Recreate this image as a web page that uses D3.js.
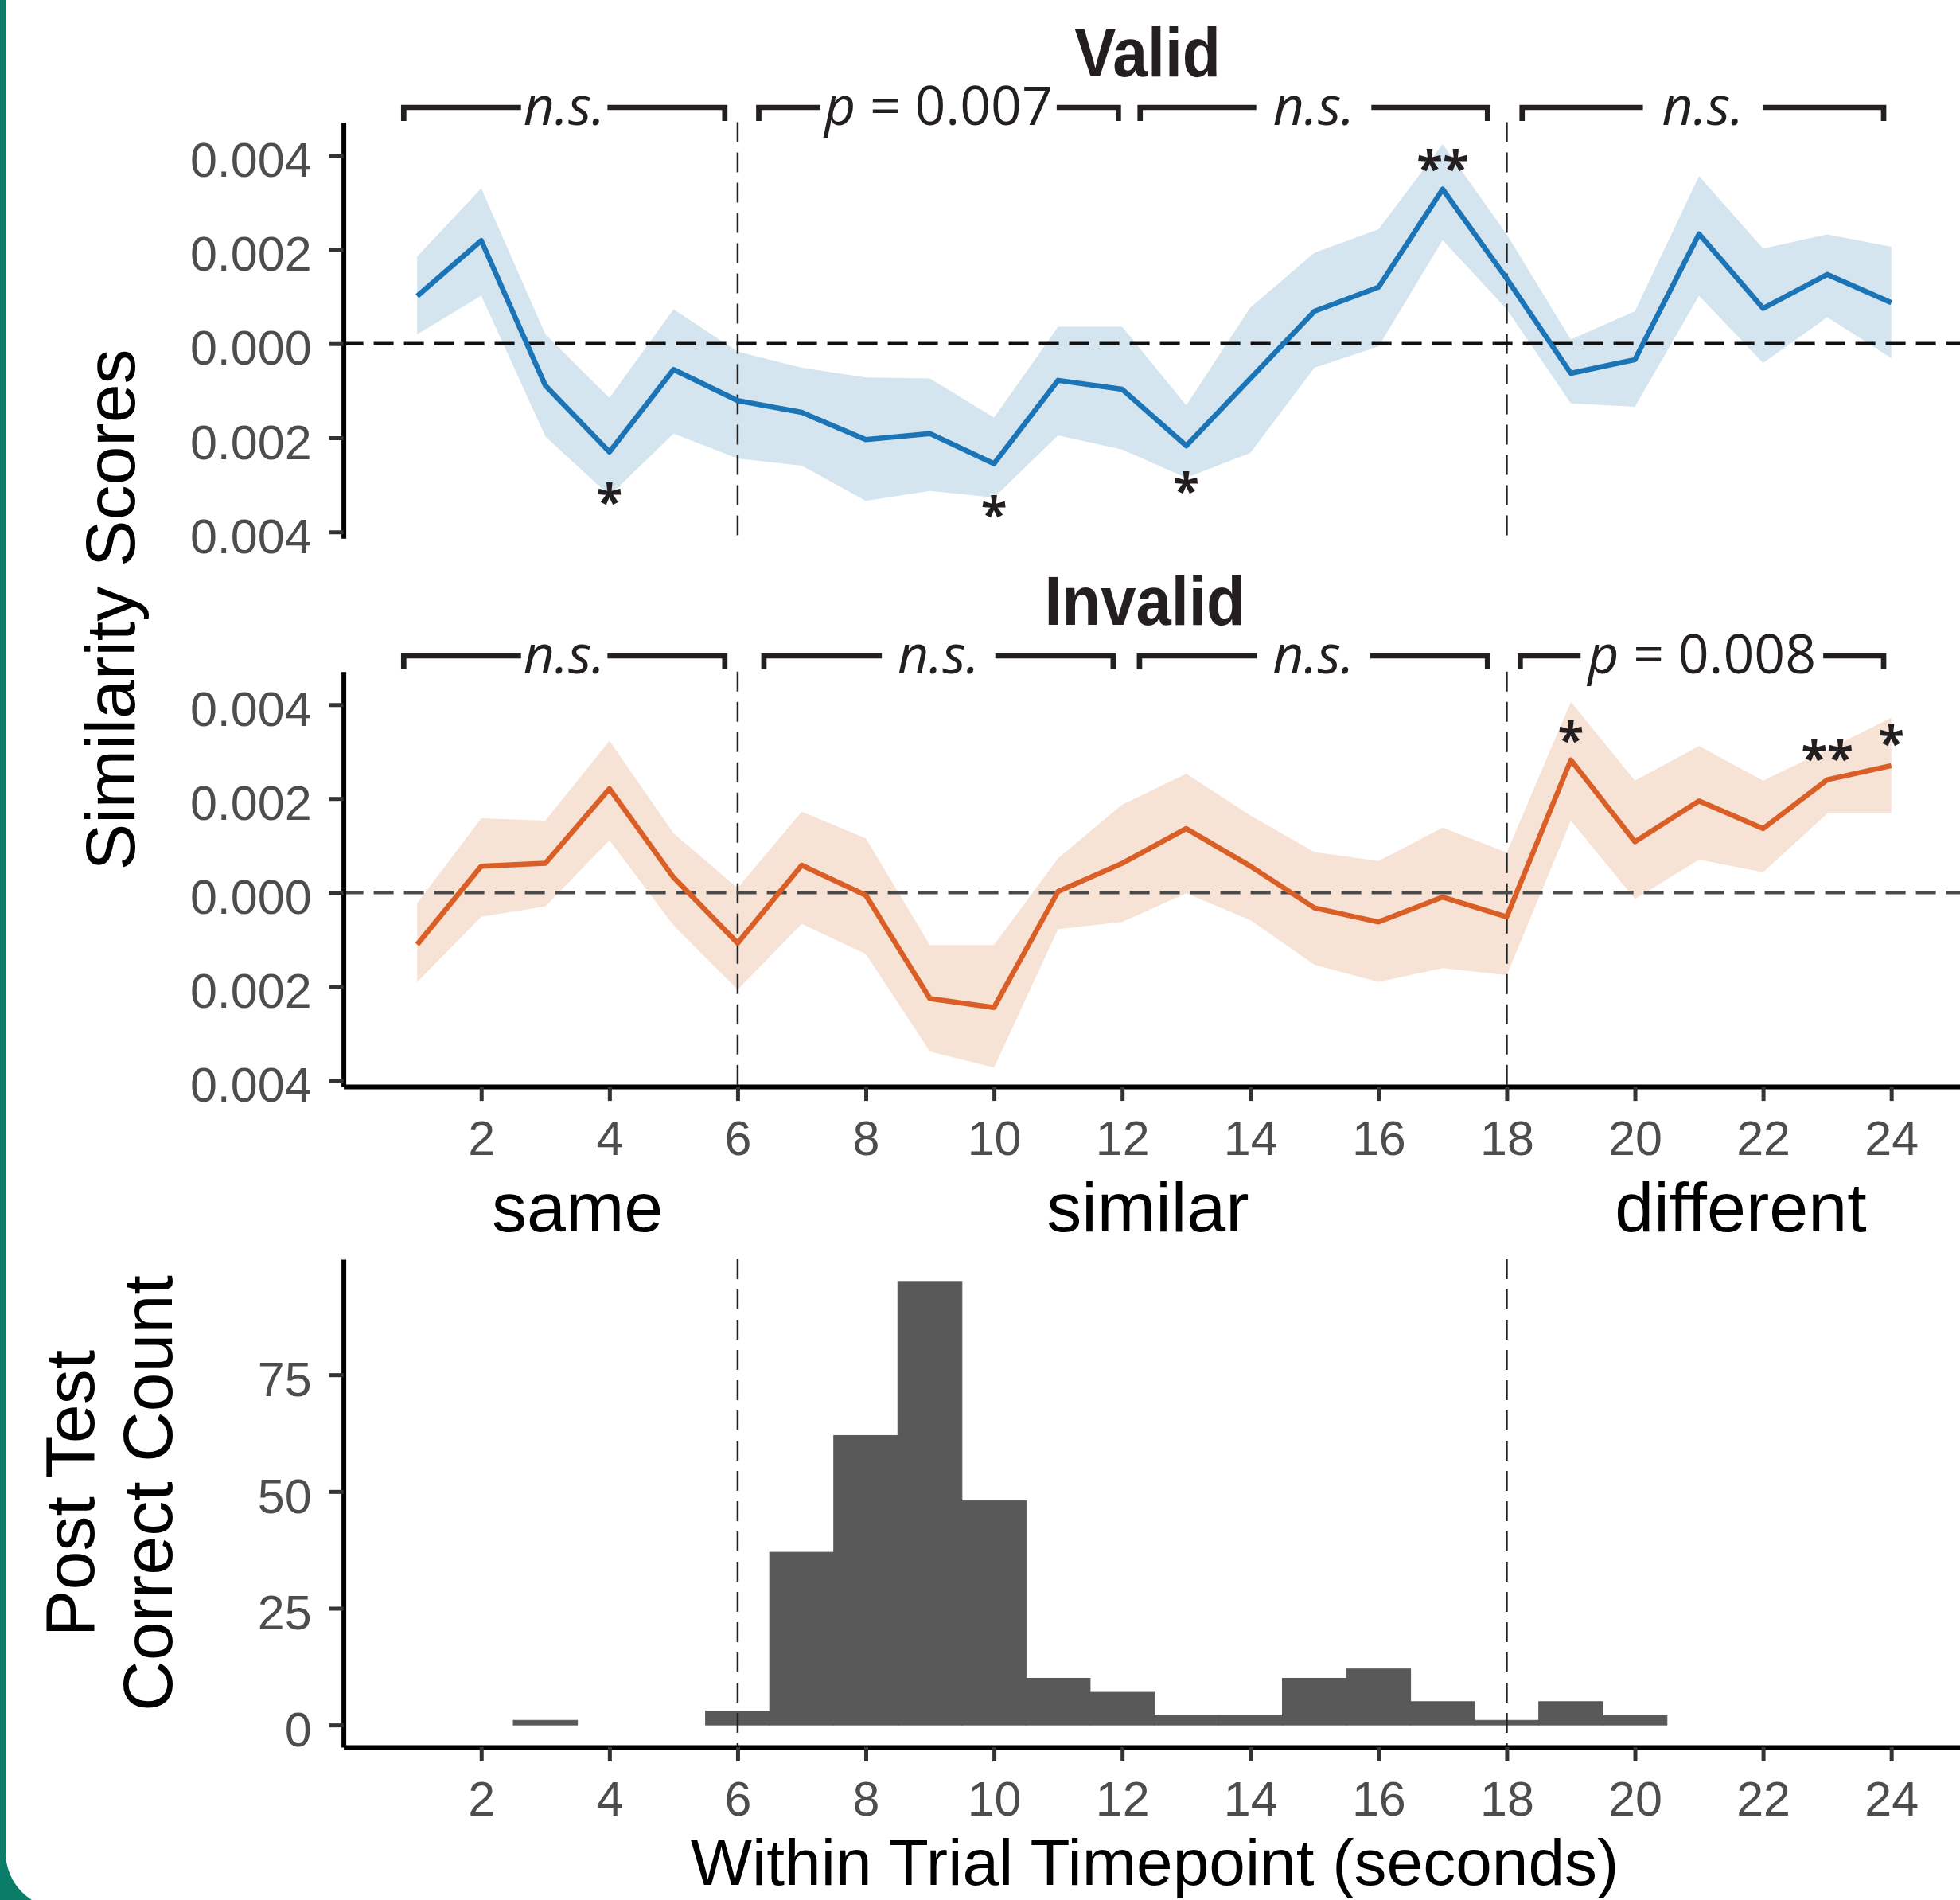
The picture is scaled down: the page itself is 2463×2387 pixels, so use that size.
<!DOCTYPE html>
<html>
<head>
<meta charset="utf-8">
<script src="https://cdn.jsdelivr.net/npm/d3@7"></script>
<style>
body { margin: 0; background: #fff; }
svg { display: block; }
.axis .tick text { font-family: "Liberation Sans", Arial, sans-serif; font-size: 61px; fill: #4d4d4d; }
.axis .tick line { stroke: #333; stroke-width: 5; }
.axis .domain { stroke: #000; stroke-width: 6; }
.lab { font-family: "Liberation Sans", Arial, sans-serif; fill: #000; }
.ann { font-family: "Open Sans", sans-serif; fill: #231f20; }
</style>
</head>
<body>
<div id="chart"></div>
<script>
const W = 2463, H = 2387;

// ---- data ----
const timepoints = [1,2,3,4,5,6,7,8,9,10,11,12,13,14,15,16,17,18,19,20,21,22,23,24];
const xTicks = [2,4,6,8,10,12,14,16,18,20,22,24];
const yTickValues = [-0.004, -0.002, 0, 0.002, 0.004];
const yTickLabels = ["0.004", "0.002", "0.000", "0.002", "0.004"];
const countTicks = [0, 25, 50, 75];
const boundaries = [6, 18];
const phaseLabels = ["same", "similar", "different"];
const phaseLabelAt = [3.5, 12.4, 21.65];

const validMean  = [0.00101, 0.00219, -0.00089, -0.00230, -0.00055, -0.00121, -0.00146, -0.00204, -0.00191, -0.00255, -0.00078, -0.00097,
                    -0.00217, -0.00074, 0.00069, 0.00120, 0.00328, 0.00138, -0.00063, -0.00034, 0.00233, 0.00075, 0.00147, 0.00087];
const validLower = [0.00020, 0.00102, -0.00197, -0.00323, -0.00191, -0.00244, -0.00259, -0.00334, -0.00313, -0.00327, -0.00195, -0.00225,
                    -0.00285, -0.00232, -0.00051, -0.00006, 0.00220, 0.00073, -0.00127, -0.00134, 0.00102, -0.00041, 0.00056, -0.00031];
const validUpper = [0.00185, 0.00330, 0.00020, -0.00115, 0.00073, -0.00017, -0.00051, -0.00072, -0.00074, -0.00157, 0.00036, 0.00036,
                    -0.00131, 0.00077, 0.00193, 0.00243, 0.00424, 0.00232, 0.00009, 0.00069, 0.00356, 0.00202, 0.00232, 0.00206];

const invalidMean  = [-0.00111, 0.00056, 0.00062, 0.00221, 0.00032, -0.00108, 0.00058, -0.00006, -0.00226, -0.00245, 0.00002, 0.00062,
                      0.00136, 0.00056, -0.00033, -0.00063, -0.00010, -0.00052, 0.00282, 0.00108, 0.00195, 0.00136, 0.00240, 0.00270];
const invalidLower = [-0.00191, -0.00052, -0.00030, 0.00111, -0.00070, -0.00207, -0.00067, -0.00131, -0.00339, -0.00373, -0.00078, -0.00063,
                      -0.00002, -0.00059, -0.00154, -0.00191, -0.00161, -0.00176, 0.00153, -0.00014, 0.00070, 0.00043, 0.00168, 0.00168];
const invalidUpper = [-0.00023, 0.00158, 0.00153, 0.00323, 0.00126, 0.00009, 0.00172, 0.00115, -0.00112, -0.00112, 0.00073, 0.00187,
                      0.00253, 0.00164, 0.00086, 0.00067, 0.00138, 0.00085, 0.00406, 0.00238, 0.00312, 0.00238, 0.00304, 0.00372];

const validBrackets = [[0.79, 5.80], [6.33, 11.94], [12.28, 17.70], [18.24, 23.88]];
const validBracketText = ["n.s.", "p = 0.007", "n.s.", "n.s."];
const invalidBrackets = [[0.79, 5.80], [6.41, 11.86], [12.27, 17.70], [18.21, 23.88]];
const invalidBracketText = ["n.s.", "n.s.", "n.s.", "p = 0.008"];

// [timepoint, marker, height]
const validStars = [[4, "*", -0.00316], [10, "*", -0.00344], [13, "*", -0.00293], [17, "**", 0.00392]];
const invalidStars = [[19, "*", 0.00345], [23, "**", 0.00306], [24, "*", 0.00337]];

const postTestCounts = [0, 0, 1, 0, 0, 3, 37, 62, 95, 48, 10, 7, 2, 2, 10, 12, 5, 1, 5, 2, 0, 0, 0, 0];

// ---- drawing ----
const svg = d3.select('#chart').append('svg')
    .attr('width', W)
    .attr('height', H);

// teal frame on the left with rounded corner
svg.append('rect').attr('width', W).attr('height', H).attr('fill', '#0a7c68');
svg.append('rect').attr('x', 7).attr('y', -300).attr('width', W + 300).attr('height', H + 300 + 11)
    .attr('rx', 71).attr('fill', '#fff');

const x = d3.scaleLinear().domain([-0.15, 25.15]).range([431.6, 2469.3]);
const simDomain = [-0.004136, 0.004705];

function dashedV(g, top, bottom) {
    g.selectAll('.bound').data(boundaries).enter().append('line')
        .attr('x1', d => x(d)).attr('x2', d => x(d))
        .attr('y1', top).attr('y2', bottom)
        .attr('stroke', '#222').attr('stroke-width', 2.5)
        .attr('stroke-dasharray', '25,13');
}

function styleAxis(sel) {
    sel.attr('class', 'axis');
    sel.selectAll('.tick text').attr('fill', null);
    sel.selectAll('.tick line').attr('stroke', null);
    sel.select('.domain').attr('stroke', null);
}

function format(s) {
    const args = Array.prototype.slice.call(arguments, 1);
    let k = 0;
    return s.replace(/\{\}/g, () => args[k++]);
}

function seriesPanel(cfg) {
    const y = d3.scaleLinear().domain(simDomain).range([cfg.bottom, cfg.top]);
    const g = svg.append('g');

    g.append('path').datum(timepoints)
        .attr('d', d3.area()
            .x(t => x(t))
            .y0((t, i) => y(cfg.lower[i]))
            .y1((t, i) => y(cfg.upper[i])))
        .attr('fill', cfg.band);

    dashedV(g, cfg.top, cfg.bottom);

    g.append('line')
        .attr('x1', x.range()[0]).attr('x2', W)
        .attr('y1', y(0)).attr('y2', y(0))
        .attr('stroke', cfg.zeroColor).attr('stroke-width', 4.5)
        .attr('stroke-dasharray', '25,13');

    g.append('path').datum(timepoints)
        .attr('d', d3.line().x(t => x(t)).y((t, i) => y(cfg.mean[i])))
        .attr('fill', 'none').attr('stroke', cfg.color).attr('stroke-width', 6.5)
        .attr('stroke-linejoin', 'round');

    // y axis
    const ya = g.append('g')
        .attr('transform', format('translate({},0)', x.range()[0]))
        .call(d3.axisLeft(y).tickValues(yTickValues).tickSize(18).tickSizeOuter(0).tickPadding(22)
            .tickFormat((d, i) => yTickLabels[i]));
    styleAxis(ya);
    ya.selectAll('.tick text').attr('dy', '0.43em');

    if (cfg.xAxis) {
        const xa = g.append('g')
            .attr('transform', format('translate(0,{})', cfg.bottom))
            .call(d3.axisBottom(x).tickValues(xTicks).tickSize(18).tickSizeOuter(0).tickPadding(25));
        styleAxis(xa);
    }

    // significance stars
    g.selectAll('.star').data(cfg.stars).enter().append('text')
        .attr('class', 'ann')
        .attr('x', d => x(d[0]))
        .attr('y', d => y(d[2]))
        .attr('dy', '0.55em')
        .attr('text-anchor', 'middle')
        .style('font-size', '60px').style('font-weight', 700)
        .text(d => d[1]);

    // brackets
    cfg.brackets.forEach((b, i) => {
        const yb = cfg.bracketY;
        const xm = x((b[0] + b[1]) / 2);
        const t = g.append('text').attr('class', 'ann')
            .attr('x', xm).attr('y', yb + 22)
            .attr('text-anchor', 'middle')
            .style('font-size', '68px');
        const label = cfg.bracketText[i];
        if (label.startsWith('p')) {
            t.append('tspan').style('font-style', 'italic').text('p');
            t.append('tspan').text(label.slice(1));
        } else {
            t.style('font-style', 'italic').text(label);
        }
        const w = t.node().getComputedTextLength();
        const pad = cfg.pads[i];
        g.append('path')
            .attr('d', format('M{},{}V{}H{}M{},{}H{}V{}',
                x(b[0]), yb + 17, yb, xm - w / 2 - pad,
                xm + w / 2 + pad, yb, x(b[1]), yb + 17))
            .attr('fill', 'none').attr('stroke', '#231f20').attr('stroke-width', 6.7)
            .attr('stroke-linejoin', 'miter');
    });

    g.append('text').attr('class', 'lab')
        .attr('x', cfg.titleX).attr('y', cfg.titleY)
        .attr('text-anchor', 'middle')
        .attr('textLength', cfg.titleW).attr('lengthAdjust', 'spacingAndGlyphs')
        .style('font-size', '88px').style('font-weight', 700).style('fill', '#231f20')
        .text(cfg.title);
}

seriesPanel({
    top: 153.5, bottom: 676.3, mean: validMean, lower: validLower, upper: validUpper,
    color: '#1a74b6', band: '#d5e5f0', zeroColor: '#111', xAxis: false,
    stars: validStars, brackets: validBrackets, bracketText: validBracketText,
    pads: [3, 5, 21, 24], bracketY: 135,
    title: 'Valid', titleX: 1442, titleY: 96, titleW: 184
});

seriesPanel({
    top: 843.7, bottom: 1365.1, mean: invalidMean, lower: invalidLower, upper: invalidUpper,
    color: '#d95f27', band: '#f7e2d6', zeroColor: '#4a4a4a', xAxis: true,
    stars: invalidStars, brackets: invalidBrackets, bracketText: invalidBracketText,
    pads: [3, 20, 20, 9], bracketY: 824,
    title: 'Invalid', titleX: 1438.5, titleY: 785, titleW: 252
});

svg.append('text').attr('class', 'lab')
    .attr('transform', 'translate(169,766) rotate(-90)')
    .attr('text-anchor', 'middle')
    .style('font-size', '88px')
    .text('Similarity Scores');

svg.selectAll('.phase').data(phaseLabels).enter().append('text')
    .attr('class', 'lab')
    .attr('x', (d, i) => x(phaseLabelAt[i]))
    .attr('y', 1547)
    .attr('text-anchor', 'middle')
    .style('font-size', '88px')
    .text(d => d);

// ---- histogram of post test correct counts ----
const yc = d3.scaleLinear().domain([-4.75, 99.75]).range([2195, 1582]);
const hg = svg.append('g');

hg.selectAll('.bar').data(timepoints.filter((t, i) => postTestCounts[i] > 0)).enter().append('rect')
    .attr('x', t => x(t - 0.5))
    .attr('width', t => x(t + 0.5) - x(t - 0.5))
    .attr('y', t => yc(postTestCounts[t - 1]))
    .attr('height', t => yc(0) - yc(postTestCounts[t - 1]))
    .attr('fill', '#595959')
    .attr('stroke', '#595959').attr('stroke-width', 1);

dashedV(hg, 1582, 2195);

const ca = hg.append('g')
    .attr('transform', format('translate({},0)', x.range()[0]))
    .call(d3.axisLeft(yc).tickValues(countTicks).tickSize(18).tickSizeOuter(0).tickPadding(22));
styleAxis(ca);
ca.selectAll('.tick text').attr('dy', '0.43em');

const xb = hg.append('g')
    .attr('transform', format('translate(0,{})', 2195))
    .call(d3.axisBottom(x).tickValues(xTicks).tickSize(18).tickSizeOuter(0).tickPadding(25));
styleAxis(xb);

svg.append('text').attr('class', 'lab')
    .attr('transform', 'translate(118,1876) rotate(-90)')
    .attr('text-anchor', 'middle')
    .style('font-size', '88px')
    .text('Post Test');
svg.append('text').attr('class', 'lab')
    .attr('transform', 'translate(216,1876) rotate(-90)')
    .attr('text-anchor', 'middle')
    .style('font-size', '88px')
    .text('Correct Count');

svg.append('text').attr('class', 'lab')
    .attr('x', 1451).attr('y', 2368)
    .attr('text-anchor', 'middle')
    .style('font-size', '82px')
    .text('Within Trial Timepoint (seconds)');
</script>
</body>
</html>
